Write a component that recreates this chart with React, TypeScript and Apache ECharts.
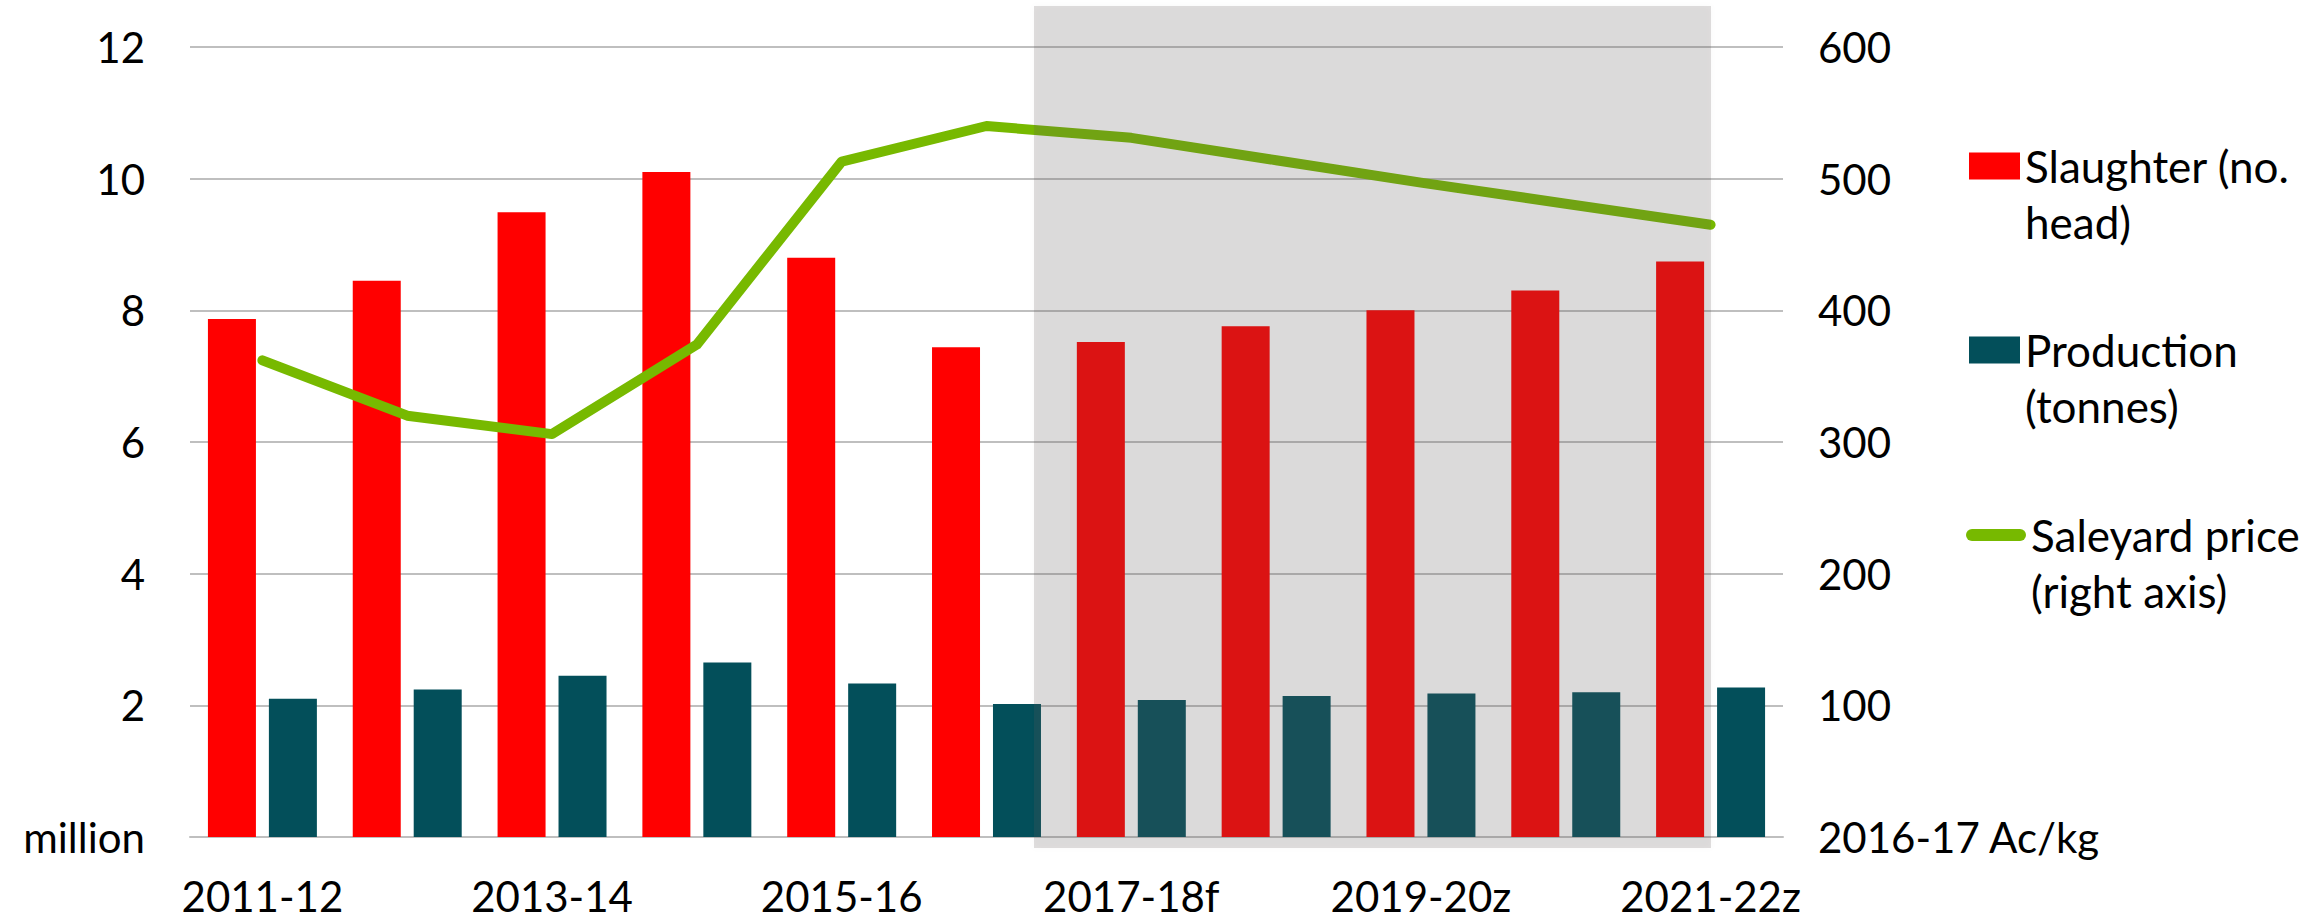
import React, { useEffect, useRef } from "react";
import * as echarts from "echarts";

const categories = [
  "2011-12", "2012-13", "2013-14", "2014-15", "2015-16", "2016-17",
  "2017-18f", "2018-19z", "2019-20z", "2020-21z", "2021-22z",
];
const slaughter = [7.87, 8.45, 9.49, 10.1, 8.8, 7.44, 7.52, 7.76, 8.0, 8.3, 8.74];
const production = [2.1, 2.24, 2.45, 2.65, 2.33, 2.02, 2.08, 2.14, 2.18, 2.2, 2.27];
const saleyardPrice = [362, 320, 306, 374, 513, 540, 531, 514, 497, 481, 465];

const leftTicks = { min: 0, max: 12, interval: 2, zeroLabel: "million" };
const rightTicks = { min: 0, max: 600, interval: 100, zeroLabel: "2016-17 Ac/kg" };

const seriesNames = {
  slaughter: "Slaughter (no. head)",
  production: "Production (tonnes)",
  price: "Saleyard price (right axis)",
};
const legendLabels: Record<string, string> = {
  [seriesNames.slaughter]: "Slaughter (no.\nhead)",
  [seriesNames.production]: "Production\n(tonnes)",
  [seriesNames.price]: "Saleyard price\n(right axis)",
};

const FONT = "Lato";
const RED = "#FF0000";
const TEAL = "#034F5A";
const GREEN = "#77B900";
const GRID = "#BFBFBF";

// legend icons: swatch at the top of a taller (invisible) box, so that it lines up
// with the first line of a two-line legend label
const SWATCH_ICON = "path://M0,0 L51,0 L51,27 L0,27 Z M0,83 L0,83";
const LINE_ICON = "path://M6,0 L54,0 A6,6 0 0 1 54,12 L6,12 A6,6 0 0 1 6,0 Z M0,68 L0,68";

export default function App() {
  const ref = useRef<HTMLDivElement>(null);

  useEffect(() => {
    document.body.style.margin = "0";
    if (!ref.current) return;
    const chart = echarts.init(ref.current, null, { renderer: "svg" });

    const legendText = {
      fontFamily: FONT,
      fontSize: 44,
      color: "#000",
      lineHeight: 56,
    };
    const mkLegend = (name: string, top: number, left: number, w: number, h: number, icon: string) => ({
      show: true,
      orient: "vertical",
      left,
      top,
      padding: 0,
      itemWidth: w,
      itemHeight: h,
      selectedMode: false,
      data: [{ name, icon }],
      formatter: (n: string) => legendLabels[n] ?? n,
      textStyle: legendText,
      itemStyle: { borderWidth: 0 },
      symbolKeepAspect: false,
    });

    chart.setOption({
      animation: false,
      backgroundColor: "#fff",
      textStyle: { fontFamily: FONT },
      grid: { left: 190, right: 540, top: 47, bottom: 84, containLabel: false },
      legend: [
        mkLegend(seriesNames.slaughter, 138, 1969, 51, 83, SWATCH_ICON),
        mkLegend(seriesNames.production, 322, 1969, 51, 83, SWATCH_ICON),
        mkLegend(seriesNames.price, 507, 1966, 60, 68, LINE_ICON),
      ],
      xAxis: {
        type: "category",
        data: categories,
        axisLine: { show: true, lineStyle: { color: GRID, width: 2 } },
        axisTick: { show: false },
        axisLabel: {
          interval: 1,
          margin: 38,
          fontFamily: FONT,
          fontSize: 42,
          lineHeight: 42,
          color: "#000",
        },
      },
      yAxis: [
        {
          type: "value",
          min: leftTicks.min,
          max: leftTicks.max,
          interval: leftTicks.interval,
          position: "left",
          axisLine: { show: false },
          axisTick: { show: false },
          splitLine: { show: true, lineStyle: { color: GRID, width: 2 } },
          axisLabel: {
            margin: 45,
            fontFamily: FONT,
            fontSize: 42,
            color: "#000",
            formatter: (v: number) => (v === 0 ? leftTicks.zeroLabel : String(v)),
          },
        },
        {
          type: "value",
          min: rightTicks.min,
          max: rightTicks.max,
          interval: rightTicks.interval,
          position: "right",
          axisLine: { show: false },
          axisTick: { show: false },
          splitLine: { show: false },
          axisLabel: {
            margin: 35,
            fontFamily: FONT,
            fontSize: 42,
            color: "#000",
            formatter: (v: number) => (v === 0 ? rightTicks.zeroLabel : String(v)),
          },
        },
      ],
      series: [
        {
          name: seriesNames.slaughter,
          type: "bar",
          data: slaughter,
          barWidth: 48,
          barGap: "27%",
          itemStyle: { color: RED },
          z: 2,
        },
        {
          name: seriesNames.production,
          type: "bar",
          data: production,
          barWidth: 48,
          barGap: "27%",
          itemStyle: { color: TEAL },
          z: 2,
        },
        {
          name: seriesNames.price,
          type: "line",
          yAxisIndex: 1,
          data: saleyardPrice,
          symbol: "none",
          showSymbol: false,
          lineStyle: { color: GREEN, width: 10, cap: "round", join: "round" },
          itemStyle: { color: GREEN },
          z: 5,
        },
      ],
      graphic: [
        {
          type: "rect",
          z: 100,
          silent: true,
          shape: { x: 1034, y: 6, width: 677, height: 842 },
          style: {
            fill: "rgba(95,91,87,0.2)",
            shadowBlur: 6,
            shadowColor: "rgba(0,0,0,0.12)",
          },
        },
      ],
    });

    return () => chart.dispose();
  }, []);

  return <div ref={ref} style={{ width: 2323, height: 921 }} />;
}
